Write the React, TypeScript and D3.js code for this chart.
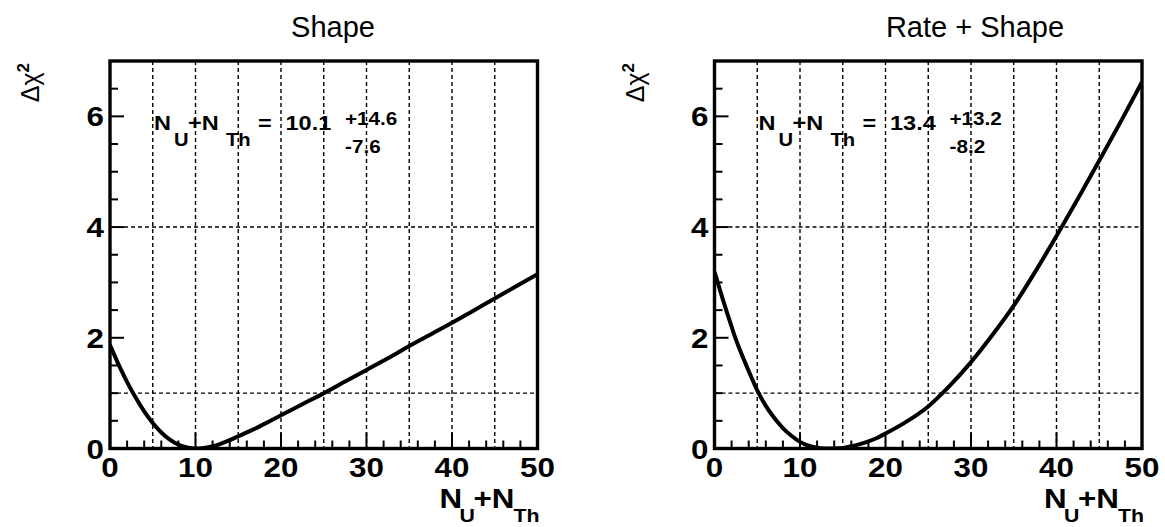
import React from 'react';
import * as d3 from 'd3';

// ---- data ----
const shapeX = [0, 1, 2, 3, 4, 5, 6, 7, 8, 9, 10, 11, 12, 13, 14, 15, 16, 17, 18, 19, 20, 22.5, 25, 27.5, 30, 32.5, 35, 37.5, 40, 42.5, 45, 47.5, 50];
const shapeY = [1.87, 1.52, 1.2, 0.92, 0.67, 0.46, 0.29, 0.16, 0.07, 0.02, 0.0, 0.01, 0.04, 0.09, 0.15, 0.22, 0.29, 0.36, 0.44, 0.52, 0.6, 0.8, 1.0, 1.21, 1.42, 1.63, 1.85, 2.06, 2.27, 2.49, 2.71, 2.93, 3.15];

const rateShapeX = [0, 1, 2, 2.5, 3, 4, 5, 6, 7, 7.5, 8, 9, 10, 11, 12, 13, 13.4, 14, 15, 16, 17, 18, 19, 20, 22.5, 25, 27.5, 30, 32.5, 35, 37.5, 40, 42.5, 45, 47.5, 50];
const rateShapeY = [3.19, 2.68, 2.2, 1.97, 1.77, 1.4, 1.05, 0.77, 0.55, 0.455, 0.37, 0.23, 0.12, 0.05, 0.015, 0.002, 0, 0.002, 0.01, 0.04, 0.08, 0.13, 0.19, 0.27, 0.49, 0.76, 1.13, 1.56, 2.05, 2.58, 3.19, 3.84, 4.51, 5.2, 5.9, 6.62];

const xMajorTicks = [0, 10, 20, 30, 40, 50];
const yMajorTicks = [0, 2, 4, 6];
const xGrid = [5, 10, 15, 20, 25, 30, 35, 40, 45];
const yGrid = [1, 4];

const titles = ['Shape', 'Rate + Shape'];
const bestFits = ['10.1', '13.4'];
const errUp = ['+14.6', '+13.2'];
const errDown = ['-7.6', '-8.2'];

const FONT = "'Liberation Sans', Arial, Helvetica, sans-serif";
const SX = 1.12; // horizontal text stretch of the original picture

type PanelProps = {
  left: number;
  titleX: number;
  title: string;
  xs: number[];
  ys: number[];
  best: string;
  up: string;
  down: string;
};

const T = (props: {
  x: number;
  y: number;
  size: number;
  bold?: boolean;
  anchor?: string;
  sx?: number;
  children: React.ReactNode;
}) => (
  <text
    transform={`translate(${props.x},${props.y}) scale(${props.sx ?? SX},1)`}
    fontSize={props.size}
    fontWeight={props.bold ? 'bold' : 'normal'}
    textAnchor={props.anchor || 'start'}
    fontFamily={FONT}
    fill="#000"
  >
    {props.children}
  </text>
);

function Panel({ left, titleX, title, xs, ys, best, up, down }: PanelProps) {
  const top = 61;
  const bottom = 448.5;
  const width = 427.5;
  const x = d3.scaleLinear().domain([0, 50]).range([left, left + width]);
  const y = d3.scaleLinear().domain([0, 7]).range([bottom, top]);
  const xMinor = x.ticks(25).filter((t) => !xMajorTicks.includes(t));
  const yMinor = y.ticks(14).filter((t) => !yMajorTicks.includes(t));
  const pts = xs.map((v, i) => [v, ys[i]] as [number, number]);
  const line = d3
    .line<[number, number]>()
    .x((d) => x(d[0]))
    .y((d) => y(d[1]))
    .curve(d3.curveMonotoneX);

  return (
    <g>
      <clipPath id={`clip${Math.round(left)}`}>
        <rect x={left} y={top} width={width} height={bottom - top} />
      </clipPath>
      {/* grid */}
      {xGrid.map((g) => (
        <line key={'gx' + g} x1={x(g)} x2={x(g)} y1={top} y2={bottom} stroke="#000" strokeWidth={1.4} strokeDasharray="4,3" />
      ))}
      {yGrid.map((g) => (
        <line key={'gy' + g} x1={left} x2={left + width} y1={y(g)} y2={y(g)} stroke="#000" strokeWidth={1.4} strokeDasharray="4,3" />
      ))}
      {/* ticks */}
      {xMajorTicks.map((t) => (
        <line key={'xm' + t} x1={x(t)} x2={x(t)} y1={bottom} y2={bottom - 16} stroke="#000" strokeWidth={2} />
      ))}
      {xMinor.map((t) => (
        <line key={'xn' + t} x1={x(t)} x2={x(t)} y1={bottom} y2={bottom - 8} stroke="#000" strokeWidth={2} />
      ))}
      {yMajorTicks.map((t) => (
        <line key={'ym' + t} x1={left} x2={left + 14} y1={y(t)} y2={y(t)} stroke="#000" strokeWidth={2} />
      ))}
      {yMinor.map((t) => (
        <line key={'yn' + t} x1={left} x2={left + 8} y1={y(t)} y2={y(t)} stroke="#000" strokeWidth={2} />
      ))}
      {/* curve */}
      <path d={line(pts) || ''} fill="none" stroke="#000" strokeWidth={4} clipPath={`url(#clip${Math.round(left)})`} />
      {/* frame */}
      <rect x={left} y={top} width={width} height={bottom - top} fill="none" stroke="#000" strokeWidth={3.4} />
      {/* tick labels */}
      {xMajorTicks.map((t) => (
        <T key={'xl' + t} x={x(t)} y={477} size={28} bold anchor="middle">
          {String(t)}
        </T>
      ))}
      {yMajorTicks.map((t) => (
        <T key={'yl' + t} x={left - 6} y={y(t) + 10} size={28} bold anchor="end">
          {String(t)}
        </T>
      ))}
      {/* title */}
      <T x={titleX} y={37} size={29} anchor="middle" sx={1}>
        {title}
      </T>
      {/* x axis title */}
      <T x={left + width - 98} y={508} size={28} bold>N</T>
      <T x={left + width - 78} y={522} size={19} bold>U</T>
      <T x={left + width - 64} y={508} size={28} bold>+N</T>
      <T x={left + width - 24} y={522} size={19} bold>Th</T>
      {/* y axis title */}
      <g transform={`translate(${left - 71},${top + 2}) rotate(-90)`}>
        <text textAnchor="end" fontFamily={FONT} fontSize={25} fill="#000">
          Δχ<tspan fontSize={17} fontWeight="bold" dy={-10}>2</tspan>
        </text>
      </g>
      {/* annotation */}
      <T x={left + 44} y={129.5} size={21} bold>N</T>
      <T x={left + 64} y={146} size={18} bold>U</T>
      <T x={left + 78} y={129.5} size={21} bold>+N</T>
      <T x={left + 116} y={146} size={18} bold>Th</T>
      <T x={left + 148} y={129.5} size={21} bold>=</T>
      <T x={left + 175.5} y={129.5} size={21} bold>{best}</T>
      <T x={left + 235} y={125} size={18.5} bold>{up}</T>
      <T x={left + 235} y={153} size={18.5} bold>{down}</T>
    </g>
  );
}

export default function App() {
  return (
    <svg width={1165} height={527} style={{ position: 'absolute', left: 0, top: 0, background: '#fff' }}>
      <rect x={0} y={0} width={1165} height={527} fill="#fff" />
      <Panel left={110} titleX={333} title={titles[0]} xs={shapeX} ys={shapeY} best={bestFits[0]} up={errUp[0]} down={errDown[0]} />
      <Panel left={714.5} titleX={975} title={titles[1]} xs={rateShapeX} ys={rateShapeY} best={bestFits[1]} up={errUp[1]} down={errDown[1]} />
    </svg>
  );
}
